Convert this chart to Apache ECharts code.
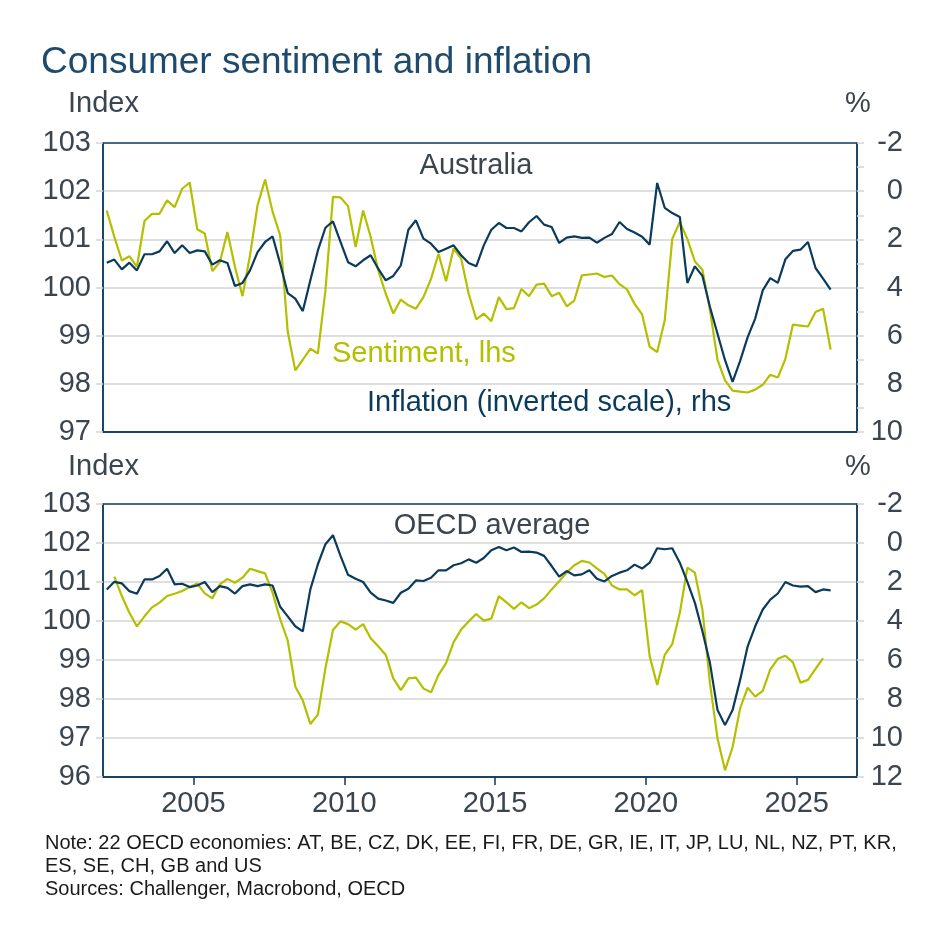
<!DOCTYPE html>
<html>
<head>
<meta charset="utf-8">
<script src="https://cdn.jsdelivr.net/npm/echarts@6/dist/echarts.min.js"></script>
<style>
  html, body { margin: 0; padding: 0; background: #fff; }
  #chart { width: 943px; height: 943px; }
</style>
</head>
<body>
<div id="chart"></div>
<script>
// Quarterly observations, 2002Q1 .. 2026Q1
const firstYear = 2002;
const yearTicks = [2005, 2010, 2015, 2020, 2025];

// Australia: consumer sentiment (index, lhs)
const ausSentiment = [
  101.60, 101.05, 100.56, 100.65, 100.43, 101.38, 101.53, 101.53, 101.81, 101.67,
  102.05, 102.18, 101.21, 101.12, 100.34, 100.53, 101.15, 100.43, 99.82, 100.67,
  101.71, 102.24, 101.57, 101.08, 99.08, 98.28, 98.50, 98.73, 98.63, 99.94,
  101.88, 101.87, 101.69, 100.84, 101.60, 101.05, 100.36, 99.87, 99.46, 99.75,
  99.63, 99.56, 99.80, 100.18, 100.70, 100.13, 100.81, 100.60, 99.87, 99.34,
  99.46, 99.30, 99.80, 99.55, 99.57, 99.97, 99.82, 100.06, 100.08, 99.82,
  99.89, 99.61, 99.73, 100.25, 100.27, 100.29, 100.22, 100.25, 100.07, 99.96,
  99.66, 99.44, 98.77, 98.66, 99.32, 101.01, 101.36, 101.01, 100.54, 100.37,
  99.53, 98.50, 98.07, 97.86, 97.84, 97.82, 97.88, 97.98, 98.19, 98.13,
  98.52, 99.23, 99.21, 99.19, 99.49, 99.56, 98.71
];

// Australia: CPI inflation (%, rhs, inverted)
const ausInflation = [
  2.97, 2.84, 3.25, 2.97, 3.29, 2.62, 2.62, 2.50, 2.08, 2.57,
  2.25, 2.57, 2.46, 2.50, 3.05, 2.87, 2.98, 3.94, 3.81, 3.29,
  2.53, 2.11, 1.88, 3.01, 4.23, 4.46, 4.98, 3.70, 2.46, 1.52,
  1.25, 2.11, 2.95, 3.12, 2.87, 2.66, 3.22, 3.70, 3.52, 3.08,
  1.60, 1.21, 1.97, 2.18, 2.53, 2.39, 2.25, 2.66, 2.98, 3.12,
  2.25, 1.60, 1.32, 1.53, 1.53, 1.67, 1.29, 1.03, 1.39, 1.49,
  2.15, 1.93, 1.88, 1.94, 1.93, 2.14, 1.94, 1.78, 1.28, 1.57,
  1.72, 1.89, 2.22, -0.34, 0.69, 0.91, 1.07, 3.81, 3.12, 3.52,
  4.81, 5.92, 7.02, 7.92, 7.05, 6.06, 5.29, 4.12, 3.61, 3.81,
  2.83, 2.48, 2.43, 2.11, 3.19, 3.63, 4.09
];

// OECD average: consumer sentiment (index, lhs)
const oecdSentiment = [
  null, 101.14, 100.64, 100.21, 99.86, 100.12, 100.35, 100.47, 100.64, 100.70,
  100.77, 100.87, 100.96, 100.71, 100.58, 100.94, 101.08, 100.98, 101.11, 101.34,
  101.28, 101.22, 100.72, 100.04, 99.50, 98.32, 97.96, 97.36, 97.60, 98.79,
  99.77, 99.99, 99.92, 99.78, 99.92, 99.56, 99.35, 99.13, 98.53, 98.23,
  98.53, 98.55, 98.27, 98.17, 98.62, 98.92, 99.46, 99.78, 99.99, 100.18,
  100.01, 100.06, 100.64, 100.48, 100.31, 100.48, 100.33, 100.42, 100.58, 100.81,
  101.02, 101.24, 101.43, 101.54, 101.50, 101.35, 101.21, 100.91, 100.81, 100.81,
  100.66, 100.79, 99.10, 98.36, 99.13, 99.41, 100.21, 101.37, 101.24, 100.29,
  98.40, 96.99, 96.17, 96.77, 97.76, 98.29, 98.06, 98.21, 98.76, 99.03,
  99.11, 98.94, 98.42, 98.49, 98.77, 99.05, null
];

// OECD average: inflation (%, rhs, inverted)
const oecdInflation = [
  2.38, 1.99, 2.07, 2.47, 2.60, 1.87, 1.87, 1.69, 1.32, 2.12,
  2.09, 2.26, 2.18, 2.00, 2.52, 2.21, 2.30, 2.59, 2.21, 2.12,
  2.21, 2.12, 2.18, 3.27, 3.76, 4.27, 4.53, 2.38, 1.09, 0.06,
  -0.40, 0.66, 1.63, 1.83, 2.00, 2.55, 2.85, 2.95, 3.07, 2.55,
  2.35, 1.92, 1.95, 1.78, 1.40, 1.40, 1.14, 1.04, 0.84, 1.01,
  0.77, 0.37, 0.20, 0.37, 0.23, 0.46, 0.44, 0.49, 0.66, 1.18,
  1.73, 1.44, 1.66, 1.61, 1.40, 1.83, 1.97, 1.69, 1.52, 1.40,
  1.11, 1.31, 1.01, 0.27, 0.32, 0.27, 1.01, 1.99, 3.07, 4.53,
  6.16, 8.57, 9.34, 8.57, 7.02, 5.30, 4.27, 3.41, 2.90, 2.59,
  2.00, 2.18, 2.24, 2.21, 2.52, 2.38, 2.43
];

const NAVY = '#0b3b5c';
const LIME = '#b4bf00';
const TEXT = '#3b4550';
const TITLE = '#1d4a6d';
const GRIDLINE = '#d5d5d5';
const FONT = '"Liberation Sans", Arial, sans-serif';

// place each quarter at its mid point on a decimal-year axis
const toPairs = vals => vals.map((v, i) => [firstYear + 0.125 + 0.25 * i, v]);

const chart = echarts.init(document.getElementById('chart'));

const leftAxis = (grid, min, max) => ({
  type: 'value', gridIndex: grid, position: 'left', min: min, max: max, interval: 1,
  axisLine: { show: true, onZero: false, lineStyle: { color: NAVY, width: 1.5 } },
  axisTick: { show: true, length: 7, lineStyle: { color: GRIDLINE, width: 1.5 } },
  axisLabel: { color: TEXT, fontSize: 29, fontFamily: FONT, margin: 12 },
  splitLine: { show: true, showMinLine: false, showMaxLine: false, lineStyle: { color: GRIDLINE, width: 1.5 } }
});

const rightAxis = (grid, min, max, step, labelStep) => ({
  type: 'value', gridIndex: grid, position: 'right', inverse: true, min: min, max: max, interval: step,
  axisLine: { show: true, onZero: false, lineStyle: { color: NAVY, width: 1.5 } },
  axisTick: { show: true, length: 7, lineStyle: { color: GRIDLINE, width: 1.5 } },
  axisLabel: {
    color: TEXT, fontSize: 29, fontFamily: FONT, margin: 46, align: 'right',
    formatter: v => (Math.round(v) % labelStep === 0 ? String(v) : '')
  },
  splitLine: { show: false }
});

const txt = (text, x, y, opts) => ({
  type: 'text', x: x, y: y, silent: true,
  style: Object.assign({
    text: text, fill: TEXT, font: '29px ' + FONT, textAlign: 'left', textVerticalAlign: 'middle'
  }, opts || {})
});

const option = {
  animation: false,
  backgroundColor: '#fff',
  grid: [
    { left: 103, top: 143, width: 754, height: 289, show: true, borderColor: NAVY, borderWidth: 1.5 },
    { left: 103, top: 504, width: 754, height: 273, show: true, borderColor: NAVY, borderWidth: 1.5 }
  ],
  xAxis: [
    {
      type: 'value', gridIndex: 0, min: 2002, max: 2027, position: 'bottom',
      axisLine: { show: true, onZero: false, lineStyle: { color: NAVY, width: 1.5 } },
      axisTick: { show: false }, axisLabel: { show: false }, splitLine: { show: false }
    },
    {
      type: 'value', gridIndex: 1, min: 2002, max: 2027, position: 'bottom',
      axisLine: { show: true, onZero: false, lineStyle: { color: NAVY, width: 1.5 } },
      axisTick: { show: true, length: 8, customValues: yearTicks, lineStyle: { color: NAVY, width: 1.5 } },
      axisLabel: {
        customValues: yearTicks, color: TEXT, fontSize: 29, fontFamily: FONT, margin: 12,
        formatter: v => String(v)
      },
      splitLine: { show: false }
    }
  ],
  yAxis: [
    leftAxis(0, 97, 103),
    rightAxis(0, -2, 10, 1, 2),
    leftAxis(1, 96, 103),
    rightAxis(1, -2, 12, 2, 2)
  ],
  series: [
    { type: 'line', xAxisIndex: 0, yAxisIndex: 0, data: toPairs(ausSentiment), showSymbol: false,
      lineStyle: { color: LIME, width: 2.2 }, itemStyle: { color: LIME } },
    { type: 'line', xAxisIndex: 0, yAxisIndex: 1, data: toPairs(ausInflation), showSymbol: false,
      lineStyle: { color: NAVY, width: 2.2 }, itemStyle: { color: NAVY } },
    { type: 'line', xAxisIndex: 1, yAxisIndex: 2, data: toPairs(oecdSentiment), showSymbol: false,
      lineStyle: { color: LIME, width: 2.2 }, itemStyle: { color: LIME } },
    { type: 'line', xAxisIndex: 1, yAxisIndex: 3, data: toPairs(oecdInflation), showSymbol: false,
      lineStyle: { color: NAVY, width: 2.2 }, itemStyle: { color: NAVY } }
  ],
  graphic: [
    txt('Consumer sentiment and inflation', 41, 63, { fill: TITLE, font: '37px ' + FONT }),
    txt('Index', 68, 104),
    txt('%', 845, 104),
    txt('Australia', 476, 166, { textAlign: 'center' }),
    txt('Sentiment, lhs', 332, 354, { fill: LIME }),
    txt('Inflation (inverted scale), rhs', 367, 403, { fill: NAVY }),
    txt('Index', 68, 467),
    txt('%', 845, 467),
    txt('OECD average', 492, 526, { textAlign: 'center' }),
    txt('Note: 22 OECD economies: AT, BE, CZ, DK, EE, FI, FR, DE, GR, IE, IT, JP, LU, NL, NZ, PT, KR,', 45, 843, { fill: '#1a1a1a', font: '20px ' + FONT }),
    txt('ES, SE, CH, GB and US', 45, 866, { fill: '#1a1a1a', font: '20px ' + FONT }),
    txt('Sources: Challenger, Macrobond, OECD', 45, 889, { fill: '#1a1a1a', font: '20px ' + FONT })
  ]
};

chart.setOption(option);
</script>
</body>
</html>
